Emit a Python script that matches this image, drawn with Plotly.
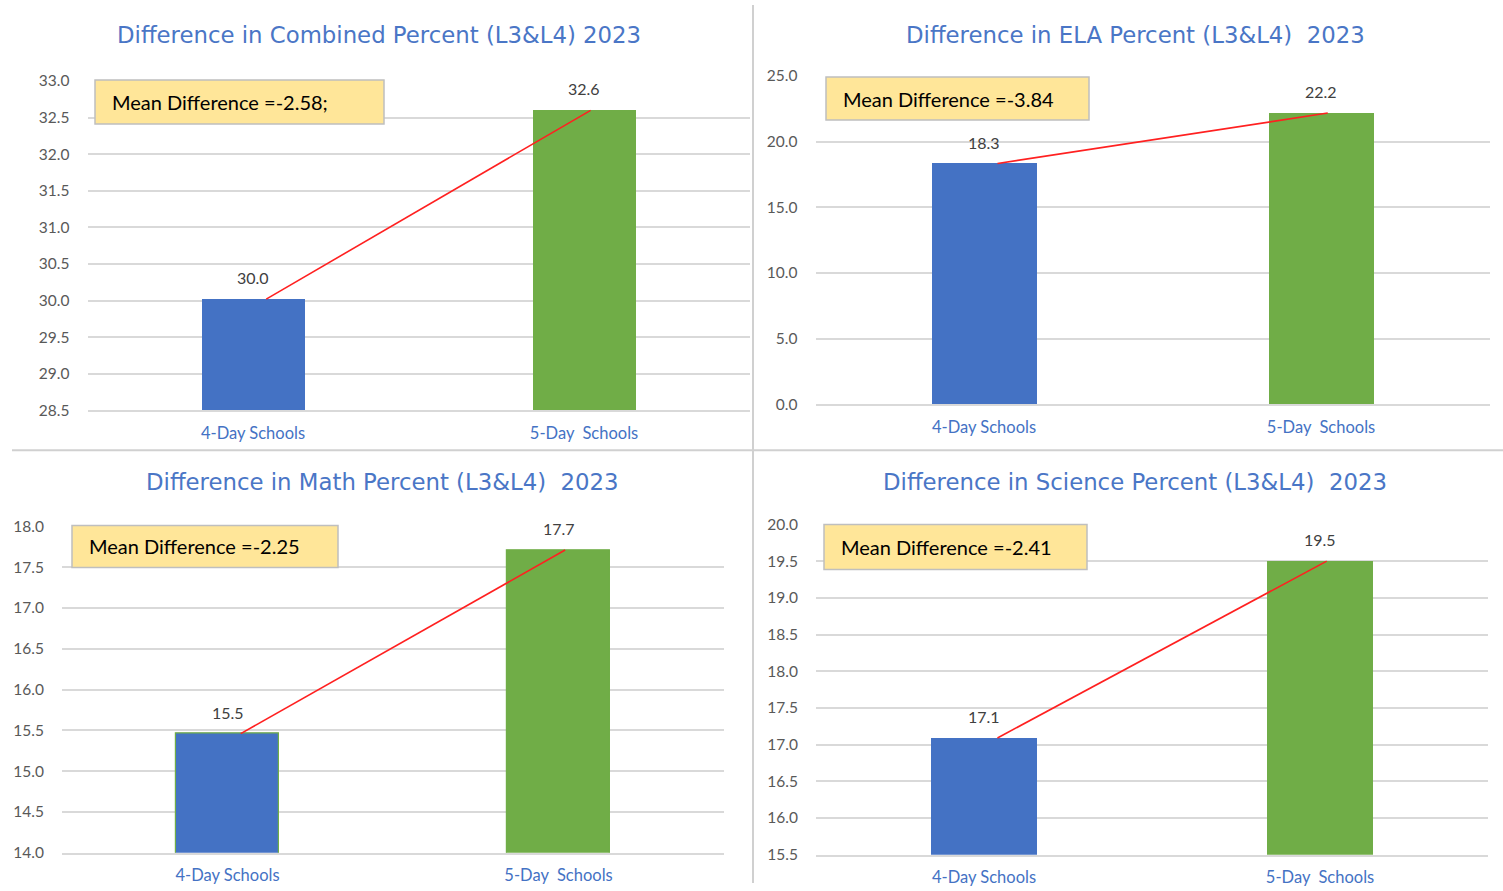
import plotly.graph_objects as go

W, H = 1503, 891

categories = ["4-Day Schools", "5-Day  Schools"]
titles = [
    "Difference in Combined Percent (L3&L4) 2023",
    "Difference in ELA Percent (L3&L4)  2023",
    "Difference in Math Percent (L3&L4)  2023",
    "Difference in Science Percent (L3&L4)  2023",
]
combined = [30.02, 32.60]
ela = [18.34, 22.18]
math_vals = [15.46, 17.71]
science = [17.09, 19.50]
mean_diff_text = [
    "Mean Difference =-2.58;",
    "Mean Difference =-3.84",
    "Mean Difference =-2.25",
    "Mean Difference =-2.41",
]
y_ranges = [(28.5, 33.0), (0.0, 25.0), (14.0, 18.0), (15.5, 20.0)]
y_dticks = [0.5, 5.0, 0.5, 0.5]

series = [combined, ela, math_vals, science]

BLUE = "#4472C4"
GREEN = "#70AD47"
FONT = "Lato"
TITLE_FONT = "DejaVu Sans"

# the rendered page shows paper y as about 10 + 0.979*y; compensate
Y_OFF, Y_SCALE = 10.0, 0.979

def px(x):
    return x / W

def py(y):
    ys = (y - Y_OFF) / Y_SCALE
    return 1 - ys / H

# pixel layout of each panel: plot x0, x1, y_bottom, y_top
panels = [
    (87.5, 749.5, 410, 81),
    (815.5, 1489.5, 404, 76),
    (62, 724, 852, 526),
    (816, 1488, 854, 524),
]
title_pos = [(379, 35), (1135, 35), (382, 482), (1135, 482)]
boxes = [
    (95, 384, 80, 124),
    (826, 1089, 77, 120),
    (72, 338, 525, 567),
    (824, 1087, 524, 569),
]

fig = go.Figure()
annotations = []
shapes = []

for i, vals in enumerate(series):
    n = "" if i == 0 else str(i + 1)
    xa, ya = "x" + n, "y" + n
    line_colors = [GREEN, GREEN] if i == 2 else [BLUE, GREEN]
    fig.add_trace(go.Bar(
        x=[0, 1], y=vals, xaxis=xa, yaxis=ya, width=0.314,
        marker=dict(color=[BLUE, GREEN], line=dict(color=line_colors, width=1.2 if i == 2 else 0)),
        showlegend=False, hoverinfo="skip",
    ))
    fig.add_trace(go.Scatter(
        x=[0.04, 1.02], y=vals, xaxis=xa, yaxis=ya, mode="lines",
        line=dict(color="#FF2020", width=1.6), showlegend=False, hoverinfo="skip",
    ))
    for j, v in enumerate(vals):
        annotations.append(dict(
            x=j, y=v, xref=xa, yref=ya, text=f"{v:.1f}", showarrow=False,
            yanchor="bottom", yshift=10, font=dict(family=FONT, size=16, color="#404040"),
        ))
    x0, x1, yb, yt = panels[i]
    lo, hi = y_ranges[i]
    fig.layout["xaxis" + n] = dict(
        domain=[px(x0), px(x1)], range=[-0.5, 1.5], anchor=ya,
        tickvals=[0, 1], ticktext=categories, showgrid=False, zeroline=False,
        showline=True, linecolor="#D9D9D9", linewidth=1.5, ticks="",
        tickfont=dict(family=FONT, size=16.5, color=BLUE), ticklabelstandoff=7,
        fixedrange=True,
    )
    fig.layout["yaxis" + n] = dict(
        domain=[py(yb), py(yt)], range=[lo, hi], anchor=xa, dtick=y_dticks[i], tick0=lo,
        tickformat=".1f", showgrid=True, gridcolor="#D9D9D9", gridwidth=1.5,
        zeroline=False, showline=False, ticks="",
        tickfont=dict(family=FONT, size=15.5, color="#595959"), ticklabelstandoff=17,
        fixedrange=True,
    )
    tx, ty = title_pos[i]
    annotations.append(dict(
        x=px(tx), y=py(ty), xref="paper", yref="paper", text=titles[i], showarrow=False,
        xanchor="center", yanchor="middle", font=dict(family=TITLE_FONT, size=22.8, color="#4A76C6"),
    ))
    bx0, bx1, by0, by1 = boxes[i]
    shapes.append(dict(
        type="rect", xref="paper", yref="paper", x0=px(bx0), x1=px(bx1), y0=py(by1), y1=py(by0),
        fillcolor="#FFE699", line=dict(color="#BFBFBF", width=1.5), layer="above",
    ))
    annotations.append(dict(
        x=px(bx0 + 15), y=py((by0 + by1) / 2), xref="paper", yref="paper", text=mean_diff_text[i],
        showarrow=False, xanchor="left", yanchor="middle",
        font=dict(family=FONT, size=20, color="#000000"),
    ))

# separators
shapes.append(dict(type="line", xref="paper", yref="paper", x0=px(753), x1=px(753), y0=0, y1=py(5),
                   line=dict(color="#D0D0D0", width=2)))
shapes.append(dict(type="line", xref="paper", yref="paper", x0=px(12), x1=px(1503), y0=py(450), y1=py(450),
                   line=dict(color="#D0D0D0", width=2)))

fig.update_layout(
    width=W, height=H, margin=dict(l=0, r=0, t=0, b=0),
    paper_bgcolor="white", plot_bgcolor="white",
    annotations=annotations, shapes=shapes, bargap=0,
    font=dict(family=FONT),
)

post = (
    "document.documentElement.style.margin='0';document.documentElement.style.padding='0';"
    "document.documentElement.style.overflow='hidden';"
    "document.body.style.margin='0';document.body.style.padding='0';document.body.style.overflow='hidden';"
)

fig.write_html(
    "out.html",
    config={"displayModeBar": False, "responsive": False},
    post_script=post,
)
